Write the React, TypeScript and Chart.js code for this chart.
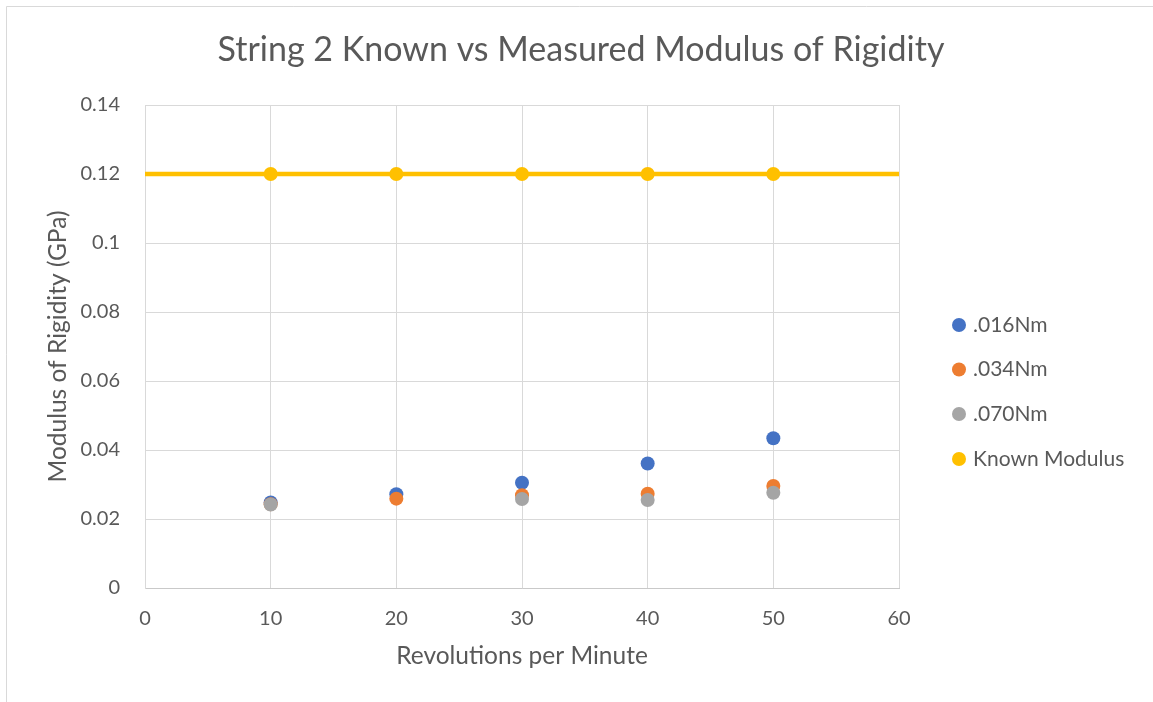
import React, { useEffect, useRef } from 'react';
import { Chart, registerables } from 'chart.js';

Chart.register(...registerables);

// Rotational speed of each test (rpm)
const rpm = [10, 20, 30, 40, 50];

// Measured modulus of rigidity (GPa) for each applied torque
const torque016 = [0.0248, 0.0272, 0.0305, 0.0361, 0.0434];
const torque034 = [0.0243, 0.0259, 0.0269, 0.0273, 0.0296];
const torque070 = [0.0242, null, 0.0258, 0.0255, 0.0276];

// Reference value for the string material (GPa)
const knownModulus = [0.12, 0.12, 0.12, 0.12, 0.12];

const seriesLabels = ['.016Nm', '.034Nm', '.070Nm', 'Known Modulus'];
const seriesColors = ['#4472C4', '#ED7D31', '#A5A5A5', '#FFC000'];

const xRange = [0, 60];
const xStep = 10;
const yRange = [0, 0.14];
const yStep = 0.02;

const chartTitle = 'String 2 Known vs Measured Modulus of Rigidity';
const xAxisTitle = 'Revolutions per Minute';
const yAxisTitle = 'Modulus of Rigidity (GPa)';

const FONT = 'Lato, "Open Sans", sans-serif';
const TEXT = '#595959';
const GRID = '#d9d9d9';

const toPoints = (ys: (number | null)[]) => rpm.map((x, i) => ({ x, y: ys[i] }));

export default function App() {
  const canvasRef = useRef<HTMLCanvasElement>(null);

  useEffect(() => {
    const canvas = canvasRef.current;
    if (!canvas) return;

    const W = 1153;
    const H = 702;
    const plotLeft = 145;
    const plotBottom = 588;

    // Thin frame around the chart object
    const framePlugin = {
      id: 'frame',
      beforeDraw(chart: any) {
        const ctx = chart.ctx;
        ctx.save();
        ctx.fillStyle = '#ffffff';
        ctx.fillRect(0, 0, W, H);
        ctx.strokeStyle = GRID;
        ctx.lineWidth = 1;
        ctx.beginPath();
        ctx.moveTo(6.5, H);
        ctx.lineTo(6.5, 6.5);
        ctx.lineTo(W, 6.5);
        ctx.stroke();
        ctx.restore();
      },
    };

    // Centered chart title
    const titlePlugin = {
      id: 'chartTitle',
      afterDraw(chart: any) {
        const ctx = chart.ctx;
        ctx.save();
        ctx.font = `34px ${FONT}`;
        ctx.fillStyle = TEXT;
        ctx.textAlign = 'center';
        ctx.textBaseline = 'middle';
        ctx.fillText(chartTitle, 581, 50);
        ctx.restore();
      },
    };

    // Vertical legend to the right of the plot
    const legendPlugin = {
      id: 'sideLegend',
      afterDraw(chart: any) {
        const ctx = chart.ctx;
        const rowY = [325, 369.5, 414, 459];
        ctx.save();
        ctx.font = `21px ${FONT}`;
        ctx.textAlign = 'left';
        ctx.textBaseline = 'middle';
        seriesLabels.forEach((label, i) => {
          ctx.fillStyle = seriesColors[i];
          ctx.beginPath();
          ctx.arc(959, rowY[i], 7, 0, Math.PI * 2);
          ctx.fill();
          ctx.fillStyle = TEXT;
          ctx.fillText(label, 973, rowY[i]);
        });
        ctx.restore();
      },
    };

    const marker = (color: string, order: number) => ({
      showLine: false,
      pointRadius: 7,
      pointHoverRadius: 7,
      pointBackgroundColor: color,
      pointBorderColor: color,
      pointBorderWidth: 0,
      backgroundColor: color,
      borderColor: color,
      order,
    });

    const chart = new Chart(canvas, {
      type: 'scatter',
      data: {
        datasets: [
          { label: seriesLabels[0], data: toPoints(torque016), ...marker(seriesColors[0], 4) },
          { label: seriesLabels[1], data: toPoints(torque034), ...marker(seriesColors[1], 3) },
          { label: seriesLabels[2], data: toPoints(torque070), ...marker(seriesColors[2], 2) },
          {
            label: 'known-line',
            data: [
              { x: xRange[0], y: knownModulus[0] },
              { x: xRange[1], y: knownModulus[knownModulus.length - 1] },
            ],
            showLine: true,
            borderColor: seriesColors[3],
            borderWidth: 4.5,
            pointRadius: 0,
            pointHoverRadius: 0,
            order: 1,
          },
          { label: seriesLabels[3], data: toPoints(knownModulus), ...marker(seriesColors[3], 0) },
        ],
      } as any,
      options: {
        responsive: false,
        animation: false,
        events: [],
        layout: { padding: { left: 0, top: 105, right: W - 899, bottom: 0 } },
        plugins: {
          legend: { display: false },
          title: { display: false },
          tooltip: { enabled: false },
        },
        scales: {
          x: {
            type: 'linear',
            min: xRange[0],
            max: xRange[1],
            ticks: {
              stepSize: xStep,
              padding: 19,
              color: TEXT,
              font: { family: FONT, size: 20 },
              maxRotation: 0,
            },
            grid: { color: GRID, lineWidth: 1, drawTicks: false },
            border: { display: true, color: '#c9c9c9', width: 1 },
            title: {
              display: true,
              text: xAxisTitle,
              color: TEXT,
              font: { family: FONT, size: 24.5 },
              padding: { top: 0, bottom: 31 },
            },
            afterFit(scale: any) {
              scale.height = H - plotBottom;
            },
          },
          y: {
            type: 'linear',
            min: yRange[0],
            max: yRange[1],
            ticks: {
              stepSize: yStep,
              padding: 25,
              color: TEXT,
              font: { family: FONT, size: 20 },
              callback: (v: any) => String(parseFloat(Number(v).toFixed(4))),
            },
            grid: { color: GRID, lineWidth: 1, drawTicks: false },
            border: { display: true, color: GRID, width: 1 },
            title: {
              display: true,
              text: yAxisTitle,
              color: TEXT,
              font: { family: FONT, size: 24.5 },
              padding: { top: 43, bottom: 0 },
            },
            afterFit(scale: any) {
              scale.width = plotLeft;
            },
          },
        },
      } as any,
      plugins: [framePlugin, titlePlugin, legendPlugin],
    });

    return () => chart.destroy();
  }, []);

  return (
    <div style={{ position: 'absolute', left: 0, top: 0, width: 1153, height: 702, background: '#fff' }}>
      <canvas ref={canvasRef} width={1153} height={702} style={{ display: 'block' }} />
    </div>
  );
}
